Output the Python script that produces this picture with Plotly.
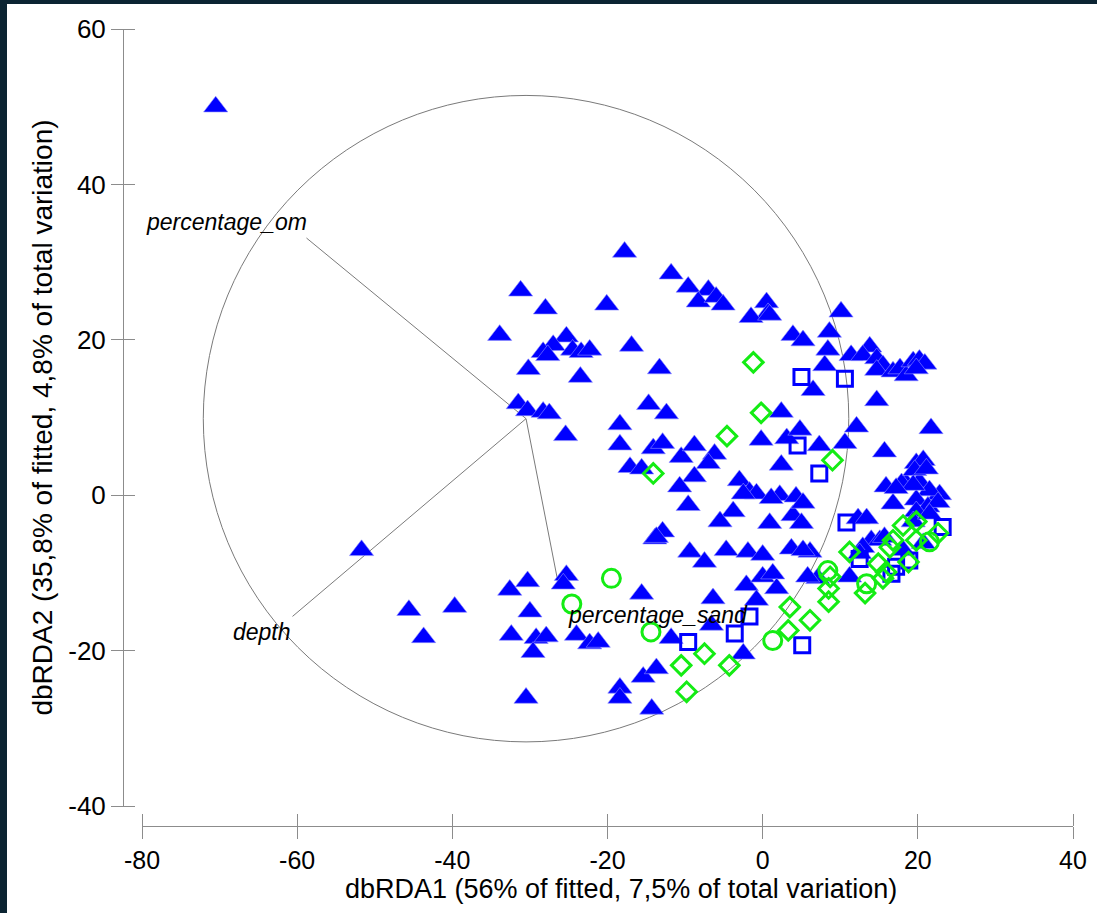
import plotly.graph_objects as go

# ---------------- data ----------------
tri_x = [-70.5, -17.8, -11.8, -9.6, -7.0, -8.3, -6.0, -5.1, 0.5, 0.7, -1.5, 0.9,
         -31.2, -28.0, -20.1, -33.9, -25.3, -27.0, -28.3, -27.7, -24.5, -23.4, -22.3, -16.9,
         -30.2, -23.5, -13.3, 3.9, -31.5, -30.3, -28.3, -27.5, -25.4, -14.7, -12.4, -18.4,
         -18.4, -17.1, -15.6, -14.1, -12.9, -10.5, -8.8, -6.2, -7.0, -8.8, -10.7, -9.6,
         -3.0, -1.7, -0.8, -2.5, -3.8, -5.5, -0.2, 2.4, 2.4, 3.1, 4.8, 2.2,
         4.3, 0.9, 3.9, 5.0, -12.9, -13.9, -9.4, -7.5, -4.7, -1.9, 0.0, 3.7,
         6.1, 6.5, 10.1, 5.2, 8.6, 8.4, 8.0, 11.4, 13.8, 12.9, 14.7, 15.5,
         14.7, 16.8, 17.7, 18.5, 19.4, 20.2, 20.9, 19.8, 14.7, 21.7, 12.1, 15.7,
         10.6, 7.3, 19.8, 20.7, 18.5, 20.2, 22.8, 21.5, 15.9, 16.8, 19.8, 17.9,
         12.3, 13.4, 19.6, 21.1, 19.4, 21.3, 19.8, 19.4, 14.0, 15.1, 12.9, 12.5,
         11.2, 7.1, 5.8, 22.6, 21.5, 15.7, 18.1, 20.7, 5.2, 17.2, 1.1, -2.1,
         0.0, 1.3, -0.8, 1.8, -6.4, -2.5, -25.3, -25.7, -30.3, -32.6, -30.0, -32.4,
         -29.2, -27.9, -29.6, -24.0, -22.3, -21.2, -15.6, -11.8, -18.4, -18.4, -15.4, -13.7,
         -14.3, -30.5, -39.7, -6.6, -51.7, -45.6, -43.7, -13.7, 5.2]
tri_y = [50.0, 31.3, 28.5, 26.8, 26.4, 24.9, 25.5, 24.5, 24.8, 23.4, 22.9, 23.2,
         26.3, 24.0, 24.5, 20.6, 20.4, 19.3, 18.4, 18.0, 18.7, 18.4, 18.7, 19.2,
         16.2, 15.2, 16.3, 20.6, 11.8, 10.9, 10.7, 10.5, 7.7, 11.7, 10.5, 9.1,
         6.5, 3.6, 3.4, 6.0, 6.7, 4.9, 6.4, 5.3, 4.1, 2.4, 1.1, -1.3,
         1.9, 0.4, 0.2, 0.2, -2.1, -3.4, 7.1, 10.7, 3.9, 7.3, 8.4, 0.0,
         -0.2, -3.6, -2.6, -3.6, -4.7, -5.6, -7.3, -8.6, -7.1, -7.3, -7.7, -6.9,
         -7.3, 13.5, 23.6, 19.9, 21.0, 18.7, 16.7, 18.0, 19.1, 18.0, 17.6, 16.7,
         16.1, 15.9, 16.3, 15.4, 17.2, 17.4, 16.9, 16.3, 12.2, 8.6, 8.8, 5.6,
         6.7, 6.4, 4.1, 4.5, 1.5, 1.7, 0.1, 0.6, 1.1, -1.1, -0.6, 1.5,
         -3.0, -3.0, 3.2, 3.4, 1.3, -1.5, -2.1, -3.4, -5.8, -5.8, -6.7, -7.5,
         -10.5, -10.7, -10.5, -0.9, -2.4, -5.4, -7.1, -6.2, -7.1, 0.9, -0.4, -11.6,
         -10.5, -10.1, -13.5, -12.0, -13.3, -20.4, -10.3, -11.4, -11.1, -12.2, -15.0, -18.0,
         -18.4, -18.2, -20.2, -18.0, -19.1, -18.9, -12.7, -18.4, -24.8, -26.1, -23.4, -22.3,
         -27.5, -26.1, -14.4, -16.7, -7.1, -14.8, -18.3, -5.4, -1.0]

sq_x = [5.0, 10.6, 4.5, 7.3, 10.8, 23.2, 17.2, 16.6, 18.9, 12.5, 5.1, -9.6, -3.6, -1.7]
sq_y = [15.2, 15.0, 6.4, 2.8, -3.5, -4.1, -9.2, -10.1, -8.4, -8.2, -19.3, -18.9, -17.8, -15.6]

circ_x = [-19.5, -24.6, -14.4, 1.3, 8.4, 13.4, 21.5]
circ_y = [-10.7, -14.0, -17.6, -18.7, -9.7, -11.4, -6.0]

dia_x = [-1.2, -0.2, -4.6, -14.1, 9.0, -7.5, -10.5, -4.3, -9.8, 3.5, 3.3, 6.1,
         8.5, 8.5, 8.7, 11.2, 13.2, 14.9, 15.5, 15.9, 16.8, 16.4, 18.1, 18.8,
         19.8, 22.6, 19.8]
dia_y = [17.1, 10.6, 7.6, 2.8, 4.5, -20.4, -21.9, -21.9, -25.3, -14.4, -17.4, -16.1,
         -13.7, -12.0, -10.5, -7.3, -12.6, -8.8, -10.7, -9.9, -5.8, -6.7, -3.9, -8.6,
         -5.8, -4.9, -3.4]

# correlation circle and vectors
circle_center = (-30.5, 9.85)
circle_radius = 41.6
vec_names = ["percentage_om", "depth", "percentage_sand"]
vec_end_x = [-58.8, -60.6, -26.4]
vec_end_y = [33.1, -15.6, -11.1]

x_range = [-80, 40]
y_range = [-40, 60]
x_ticks = [-80, -60, -40, -20, 0, 20, 40]
x_tick_text = ["-80", "-60", "-40", "-20", "0", "20", "40"]
y_ticks = [-40, -20, 0, 20, 40, 60]
y_tick_text = ["-40", "-20", "0", "20", "40", "60"]
x_title = "dbRDA1 (56% of fitted, 7,5% of total variation)"
y_title = "dbRDA2 (35,8% of fitted, 4,8% of total variation)"

# ---------------- layout geometry (pixels) ----------------
W, H = 1097, 913
ML, MR, MT, MB = 123, 4, 9, 87            # plotting area 123..1093 x 9..826
PW, PH = W - ML - MR, H - MT - MB
X0PX, X1PX = 142, 1073                    # where x_range maps
Y0PX, Y1PX = 806, 29                      # where y_range maps (bottom, top)
X_DOM = [(X0PX - ML) / PW, (X1PX - ML) / PW]
Y_DOM = [((H - MB) - Y0PX) / PH, ((H - MB) - Y1PX) / PH]
# helper axes cover the whole plotting area so end ticks are not clipped
xu = (x_range[1] - x_range[0]) / (X1PX - X0PX)
yu = (y_range[1] - y_range[0]) / (Y0PX - Y1PX)
x_range_full = [x_range[0] - (X0PX - ML) * xu, x_range[1] + (W - MR - X1PX) * xu]
y_range_full = [y_range[0] - ((H - MB) - Y0PX) * yu, y_range[1] + (Y1PX - MT) * yu]

# ---------------- figure ----------------
BLUE = "#0000ff"
GREEN = "#14ec14"
AX = "#8c8c8c"
FONT = "Liberation Sans, Arial, sans-serif"

fig = go.Figure()

fig.add_trace(go.Scatter(x=tri_x, y=tri_y, mode="markers",
                         marker=dict(symbol="triangle-up", size=21, color=BLUE,
                                     line=dict(color="#8f8fff", width=0.6))))
fig.add_trace(go.Scatter(x=sq_x, y=sq_y, mode="markers",
                         marker=dict(symbol="square-open", size=15, color=BLUE,
                                     line=dict(color=BLUE, width=3))))
fig.add_trace(go.Scatter(x=dia_x, y=dia_y, mode="markers",
                         marker=dict(symbol="diamond-open", size=15, color=GREEN,
                                     line=dict(color=GREEN, width=3))))
fig.add_trace(go.Scatter(x=circ_x, y=circ_y, mode="markers",
                         marker=dict(symbol="circle-open", size=18, color=GREEN,
                                     line=dict(color=GREEN, width=3))))
# invisible helper traces so that the helper axes (inner half of crossing ticks) are drawn
fig.add_trace(go.Scatter(x=[0], y=[0], xaxis="x2", yaxis="y2",
                         mode="markers", marker=dict(opacity=0, size=1),
                         showlegend=False, hoverinfo="skip"))
fig.add_trace(go.Scatter(x=[0], y=[0], xaxis="x3", yaxis="y3",
                         mode="markers", marker=dict(opacity=0, size=1),
                         showlegend=False, hoverinfo="skip"))

cx, cy = circle_center
frame = "#0b2432"
shapes = [
    # dark frame strips (left / top)
    dict(type="rect", xref="paper", yref="paper", x0=-0.3, x1=(7 - ML) / PW, y0=-0.3, y1=1.3,
         fillcolor=frame, line=dict(width=0), layer="below"),
    dict(type="rect", xref="paper", yref="paper", x0=-0.3, x1=1.3, y0=((H - MB) - 4) / PH, y1=1.3,
         fillcolor=frame, line=dict(width=0), layer="below"),
    dict(type="circle", xref="x", yref="y", x0=cx - circle_radius, x1=cx + circle_radius,
         y0=cy - circle_radius, y1=cy + circle_radius,
         line=dict(color="#7a7a7a", width=1), layer="below"),
]
for ex, ey in zip(vec_end_x, vec_end_y):
    shapes.append(dict(type="line", xref="x", yref="y", x0=cx, y0=cy, x1=ex, y1=ey,
                       line=dict(color="#7a7a7a", width=1), layer="below"))

annotations = []
label_pos = {
    "percentage_om": dict(xanchor="right", yanchor="bottom", xshift=3, yshift=1),
    "depth": dict(xanchor="right", yanchor="top", xshift=0, yshift=-1),
    "percentage_sand": dict(xanchor="left", yanchor="top", xshift=8, yshift=-19),
}
for name, ex, ey in zip(vec_names, vec_end_x, vec_end_y):
    lp = label_pos[name]
    annotations.append(dict(x=ex, y=ey, xref="x", yref="y", text="<i>%s</i>" % name,
                            showarrow=False, font=dict(family=FONT, size=23, color="black"),
                            **lp))
# x axis title (slightly right of the axis centre, as in the original)
annotations.append(dict(x=(X_DOM[0] + X_DOM[1]) / 2, y=((H - MB) - 889) / PH,
                        xref="paper", yref="paper", xanchor="center", yanchor="middle",
                        xshift=13, text=x_title, showarrow=False,
                        font=dict(family=FONT, size=27, color="black")))

axis_common = dict(showgrid=False, zeroline=False, linecolor=AX, automargin=False,
                   linewidth=1, tickcolor=AX, tickwidth=1, ticklen=12)

fig.update_layout(
    width=W, height=H,
    margin=dict(l=ML, r=MR, t=MT, b=MB, autoexpand=False),
    paper_bgcolor="white", plot_bgcolor="rgba(0,0,0,0)",
    showlegend=False,
    font=dict(family=FONT, size=26, color="black"),
    xaxis=dict(range=x_range, domain=X_DOM, anchor="free", position=0, showline=True,
               tickmode="array", tickvals=x_ticks, ticktext=x_tick_text, ticks="outside",
               tickfont=dict(size=25), **axis_common),
    yaxis=dict(range=y_range, domain=Y_DOM, anchor="free", position=0, showline=True,
               tickmode="array", tickvals=y_ticks, ticktext=y_tick_text, ticks="outside",
               tickfont=dict(size=26), title=dict(text=y_title, font=dict(size=28), standoff=6),
               **axis_common),
    # helper subplot 2: inward x ticks along the bottom edge
    xaxis2=dict(range=x_range_full, domain=[0, 1], anchor="y2", tickmode="array",
                tickvals=x_ticks, ticks="inside", showticklabels=False, showline=False,
                **axis_common),
    yaxis2=dict(range=[-1, 1], domain=[0, 1], anchor="x2", visible=False),
    # helper subplot 3: inward y ticks along the left edge
    yaxis3=dict(range=y_range_full, domain=[0, 1], anchor="x3", tickmode="array",
                tickvals=y_ticks, ticks="inside", showticklabels=False, showline=False,
                **axis_common),
    xaxis3=dict(range=[-1, 1], domain=[0, 1], anchor="y3", visible=False),
    shapes=shapes,
    annotations=annotations,
    hovermode=False,
)

fig.write_html("out.html")
